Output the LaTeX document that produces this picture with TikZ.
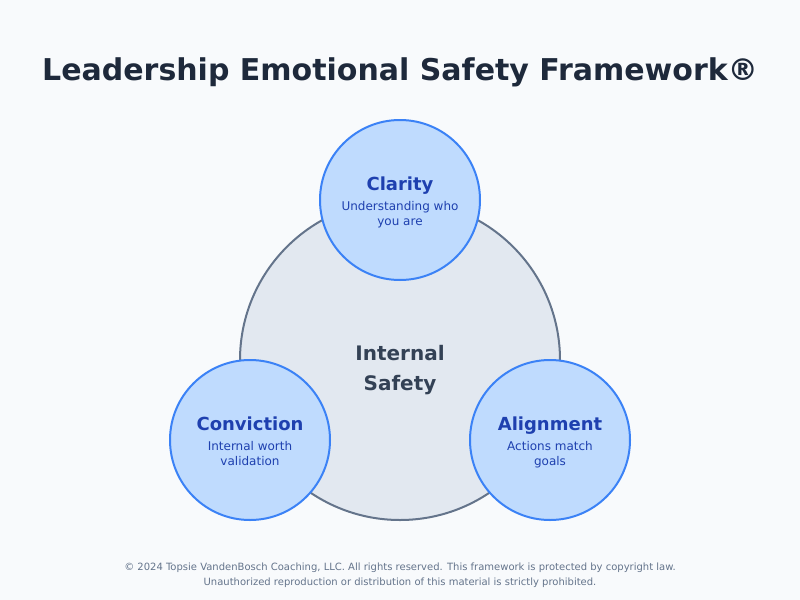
\documentclass[tikz,border=0pt]{standalone}
\usepackage{fontspec}
\setmainfont{DejaVu Sans}
\definecolor{bgc}{HTML}{F8FAFC}
\definecolor{titlec}{HTML}{1E293B}
\definecolor{corefill}{HTML}{E2E8F0}
\definecolor{coreline}{HTML}{64748B}
\definecolor{coretext}{HTML}{334155}
\definecolor{petalfill}{HTML}{BFDBFE}
\definecolor{petalline}{HTML}{3B82F6}
\definecolor{petaltext}{HTML}{1E40AF}
\tikzset{
  x=0.75pt,y=-0.75pt,
  core/.style={circle,draw=coreline,fill=corefill,line width=1.5pt,minimum size=240pt,inner sep=0pt,outer sep=0pt},
  petal/.style={circle,draw=petalline,fill=petalfill,line width=1.5pt,minimum size=120pt,inner sep=0pt,outer sep=0pt},
  txt/.style={inner sep=0pt,outer sep=0pt,anchor=base,align=center},
  ttl/.style={txt,text=titlec,font=\bfseries\fontsize{22.5}{27}\selectfont},
  head/.style={txt,text=petaltext,font=\bfseries\fontsize{13.5}{16}\selectfont},
  sub/.style={txt,text=petaltext,font=\fontsize{9}{11}\selectfont},
  mid/.style={txt,text=coretext,font=\bfseries\fontsize{15}{18}\selectfont},
  foot/.style={txt,text=coreline,font=\fontsize{7.5}{9}\selectfont},
}
\begin{document}
\begin{tikzpicture}
\useasboundingbox (0,0) rectangle (800,600);
\fill[bgc] (0,0) rectangle (800,600);
\node[ttl] (title) at (400,80) {Leadership Emotional Safety Framework®};
\node[core] (c) at (400,360) {};
\node[petal] (p1) at (400,200) {};
\node[petal] (p2) at (250,440) {};
\node[petal] (p3) at (550,440) {};
\node[mid] (m1) at (400,360) {Internal};
\node[mid] (m2) at (400,390) {Safety};
\node[head] (h1) at (400,190) {Clarity};
\node[sub] (s1a) at (400,210) {Understanding who};
\node[sub] (s1b) at (400,225) {you are};
\node[head] (h2) at (250,430) {Conviction};
\node[sub] (s2a) at (250,450) {Internal worth};
\node[sub] (s2b) at (250,465) {validation};
\node[head] (h3) at (550,430) {Alignment};
\node[sub] (s3a) at (550,450) {Actions match};
\node[sub] (s3b) at (550,465) {goals};
\node[foot] (f1) at (400,570) {© 2024 Topsie VandenBosch Coaching, LLC. All rights reserved. This framework is protected by copyright law.};
\node[foot] (f2) at (400,585) {Unauthorized reproduction or distribution of this material is strictly prohibited.};
\end{tikzpicture}
\end{document}
